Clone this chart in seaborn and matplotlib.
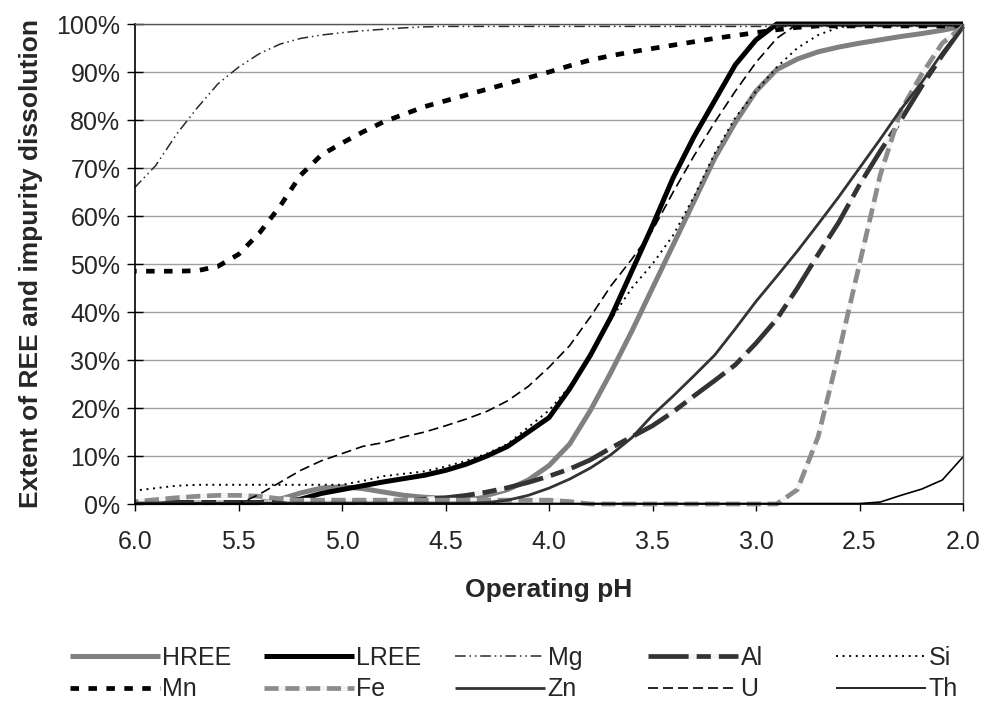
import numpy as np
import pandas as pd
import matplotlib
matplotlib.use("Agg")
import matplotlib.pyplot as plt
import seaborn as sns
from matplotlib.ticker import FuncFormatter

# Operating pH values (common for all series)
ph = [6.0, 5.9, 5.8, 5.7, 5.6, 5.5, 5.4, 5.3, 5.2, 5.1,
      5.0, 4.9, 4.8, 4.7, 4.6, 4.5, 4.4, 4.3, 4.2, 4.1,
      4.0, 3.9, 3.8, 3.7, 3.6, 3.5, 3.4, 3.3, 3.2, 3.1,
      3.0, 2.9, 2.8, 2.7, 2.6, 2.5, 2.4, 2.3, 2.2, 2.1, 2.0]

# Extent of dissolution (%) for each element
hree = [0.3, 0.3, 0.3, 0.3, 0.3, 0.3, 0.3, 1.0, 2.3, 3.3,
        3.6, 3.2, 2.5, 1.8, 1.4, 1.2, 1.3, 1.8, 3.0, 5.0,
        8.0, 12.5, 19.5, 27.5, 36.0, 45.0, 54.0, 63.0, 72.0, 79.5,
        86.0, 90.5, 92.7, 94.2, 95.2, 96.0, 96.7, 97.4, 98.0, 98.7, 99.5]
lree = [0.3, 0.3, 0.3, 0.3, 0.3, 0.3, 0.3, 0.5, 1.0, 2.2,
        3.0, 3.8, 4.6, 5.3, 6.0, 7.0, 8.3, 10.0, 12.0, 15.0,
        18.0, 24.0, 31.0, 39.0, 48.5, 58.0, 68.0, 76.5, 84.0, 91.5,
        96.7, 100, 100, 100, 100, 100, 100, 100, 100, 100, 100]
mg = [66.0, 70.5, 77.0, 82.5, 87.5, 91.0, 93.8, 95.8, 97.0, 97.7,
      98.2, 98.6, 98.9, 99.2, 99.4, 99.5, 99.5, 99.5, 99.5, 99.5,
      99.5, 99.5, 99.5, 99.5, 99.5, 99.5, 99.5, 99.5, 99.5, 99.5,
      99.5, 99.5, 99.5, 99.5, 99.5, 99.5, 99.5, 99.5, 99.5, 99.5, 99.6]
al = [0.3, 0.3, 0.3, 0.3, 0.3, 0.3, 0.3, 0.3, 0.3, 0.3,
      0.3, 0.3, 0.3, 0.6, 1.0, 1.3, 1.8, 2.5, 3.4, 4.5,
      5.8, 7.3, 9.2, 11.7, 14.0, 16.3, 19.2, 22.5, 25.7, 29.0,
      33.5, 38.5, 45.0, 52.0, 58.7, 66.5, 73.5, 80.0, 87.0, 93.5, 99.5]
si = [2.8, 3.3, 3.8, 4.0, 4.0, 4.0, 4.0, 4.0, 4.0, 4.0,
      4.0, 4.8, 5.8, 6.3, 6.8, 7.8, 9.0, 10.5, 12.5, 16.0,
      19.5, 24.5, 30.5, 38.5, 45.0, 50.0, 56.0, 64.0, 73.0, 80.5,
      86.0, 91.0, 95.0, 97.7, 99.3, 99.8, 100, 100, 100, 100, 100]
mn = [48.5, 48.5, 48.5, 48.6, 49.5, 52.0, 56.4, 62.0, 68.5, 72.7,
      75.2, 77.5, 79.6, 81.2, 82.8, 84.0, 85.2, 86.4, 87.6, 88.8,
      90.0, 91.3, 92.5, 93.4, 94.2, 94.9, 95.6, 96.3, 97.0, 97.6,
      98.2, 98.8, 99.3, 99.6, 99.6, 99.6, 99.6, 99.6, 99.6, 99.6, 99.6]
fe = [0.5, 0.9, 1.3, 1.6, 1.8, 1.8, 1.6, 1.1, 0.8, 0.8,
      0.8, 0.8, 0.8, 0.8, 0.8, 0.8, 0.8, 0.8, 0.8, 0.8,
      0.8, 0.5, 0.0, 0.0, 0.0, 0.0, 0.0, 0.0, 0.0, 0.0,
      0.0, 0.0, 3.0, 14.0, 31.5, 50.0, 68.5, 82.0, 89.5, 96.0, 99.5]
zn = [0.2, 0.2, 0.2, 0.2, 0.2, 0.2, 0.2, 0.2, 0.2, 0.2,
      0.2, 0.2, 0.2, 0.2, 0.2, 0.2, 0.2, 0.3, 0.8, 1.8,
      3.3, 5.2, 7.5, 10.3, 13.8, 18.5, 22.5, 26.7, 31.0, 36.5,
      42.2, 47.4, 52.7, 58.3, 64.0, 70.0, 76.0, 82.2, 87.8, 94.0, 99.5]
u = [0.0, 0.0, 0.0, 0.0, 0.0, 0.0, 2.0, 4.5, 7.0, 9.0,
     10.5, 12.0, 12.8, 14.0, 15.0, 16.3, 17.7, 19.3, 21.5, 24.5,
     28.5, 33.0, 39.0, 45.5, 51.0, 57.0, 65.0, 72.5, 79.5, 86.0,
     92.0, 97.0, 100, 100, 100, 100, 100, 100, 100, 100, 100]
th = [0.1, 0.1, 0.1, 0.1, 0.1, 0.1, 0.1, 0.1, 0.1, 0.1,
      0.1, 0.1, 0.1, 0.1, 0.1, 0.1, 0.1, 0.1, 0.1, 0.1,
      0.1, 0.1, 0.1, 0.1, 0.1, 0.1, 0.1, 0.1, 0.1, 0.1,
      0.1, 0.1, 0.1, 0.1, 0.1, 0.1, 0.4, 1.8, 3.1, 5.0, 9.8]

names = ["HREE", "LREE", "Mg", "Al", "Si", "Mn", "Fe", "Zn", "U", "Th"]
values = [hree, lree, mg, al, si, mn, fe, zn, u, th]

# line styling per element
styles = {
    "HREE": dict(color="#808080", lw=3.6, ls="-"),
    "LREE": dict(color="#000000", lw=3.6, ls="-"),
    "Mg":   dict(color="#2a2a2a", lw=1.1, ls=(0, (7, 2.5, 1, 2.5, 1, 2.5))),
    "Al":   dict(color="#333333", lw=3.4, ls=(0, (8.5, 1.7, 3, 1.7)), gap="#f4f4f4"),
    "Si":   dict(color="#000000", lw=1.4, ls=(0, (1, 2.4))),
    "Mn":   dict(color="#000000", lw=3.4, ls=(0, (1.8, 2.0))),
    "Fe":   dict(color="#8c8c8c", lw=3.4, ls=(0, (3.0, 1.4)), gap="#f4f4f4"),
    "Zn":   dict(color="#333333", lw=2.0, ls="-"),
    "U":    dict(color="#000000", lw=1.2, ls=(0, (6, 3))),
    "Th":   dict(color="#000000", lw=1.2, ls="-"),
}

sns.set_style("white")
plt.rcParams["font.family"] = ["Liberation Sans", "DejaVu Sans"]

W, H = 984, 713
fig = plt.figure(figsize=(W / 100, H / 100), dpi=100)
fig.patch.set_facecolor("white")
ax = fig.add_axes([135 / W, 1 - 504 / H, (963 - 135) / W, (504 - 24) / H])

lines = {}
for name, vals in zip(names, values):
    st = styles[name]
    df = pd.DataFrame({"pH": ph, "pct": vals})
    sns.lineplot(data=df, x="pH", y="pct", ax=ax, color=st["color"],
                 linewidth=st["lw"], label=name, legend=False,
                 estimator=None, sort=True)
    ln = ax.lines[-1]
    ln.set_linestyle(st["ls"])
    if "gap" in st:
        ln.set_gapcolor(st["gap"])
    ln.set_clip_on(False)
    ln.set_solid_capstyle("butt")
    ln.set_dash_capstyle("butt")
    lines[name] = ln

ax.set_xlim(6.0, 2.0)
ax.set_ylim(0, 100)
ax.set_xticks([6.0, 5.5, 5.0, 4.5, 4.0, 3.5, 3.0, 2.5, 2.0])
ax.xaxis.set_major_formatter(FuncFormatter(lambda v, p: f"{v:.1f}"))
ax.set_yticks(np.arange(0, 101, 10))
ax.yaxis.set_major_formatter(FuncFormatter(lambda v, p: f"{v:.0f}%"))

ax.grid(axis="y", color="#a0a0a0", linewidth=1.0)
ax.grid(axis="x", visible=False)
ax.set_axisbelow(True)

for side in ["left", "bottom"]:
    ax.spines[side].set_color("black")
    ax.spines[side].set_linewidth(1.2)
for side in ["top", "right"]:
    ax.spines[side].set_visible(True)
    ax.spines[side].set_color("#555555")
    ax.spines[side].set_linewidth(1.0)

ax.tick_params(axis="x", direction="out", length=5, width=1.0, color="black",
               labelsize=18, pad=14, bottom=True)
ax.tick_params(axis="y", direction="inout", length=11, width=1.0, color="black",
               labelsize=18, pad=5, left=True)

ax.set_xlabel("Operating pH", fontsize=19, fontweight="bold", labelpad=17)
ax.set_ylabel("Extent of REE and impurity dissolution", fontsize=19,
              fontweight="bold", labelpad=10)

# legend: five equal-width columns, two rows
rows = [["HREE", "LREE", "Mg", "Al", "Si"], ["Mn", "Fe", "Zn", "U", "Th"]]
col_x = [70, 264, 455, 648, 836]
for i, x0 in enumerate(col_x):
    entries = [rows[0][i], rows[1][i]]
    fig.legend([lines[n] for n in entries], entries,
               loc="center left", bbox_to_anchor=(x0 / W, 1 - 673.5 / H),
               frameon=False, fontsize=18, handlelength=3.6,
               handletextpad=0.1, labelspacing=0.3,
               borderpad=0, borderaxespad=0)

fig.savefig("out.png", dpi=100, facecolor="white")
